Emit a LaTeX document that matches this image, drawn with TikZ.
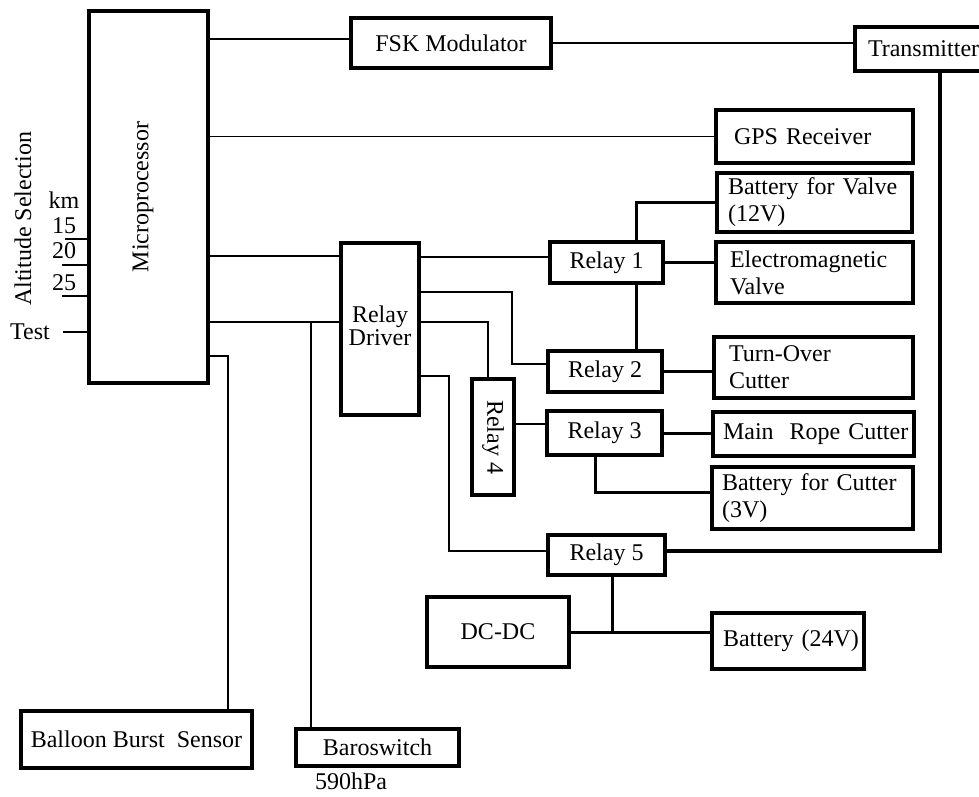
\documentclass[tikz,border=0pt]{standalone}
\usepackage{fontspec}
\setmainfont{Liberation Serif}
\begin{document}
\begin{tikzpicture}[x=1pt,y=-1pt,
  font=\fontsize{24}{27}\selectfont,
  box/.style={draw, line width=3.2pt, inner sep=0pt, outer sep=0pt, align=center},
  lbox/.style={box, anchor=west, align=left},
  plain/.style={inner sep=0pt, outer sep=0pt},
  sig/.style={line width=1.3pt},
  mid/.style={line width=2.2pt},
  pwr/.style={line width=3pt},
  heavy/.style={line width=4.2pt}]
\useasboundingbox (0,0) rectangle (979,796);
\clip (0,0) rectangle (979,796);

% boxes
\node[box, minimum width=119pt, minimum height=372pt] (mp) at (148.5,197) {\hspace*{-11pt}\rotatebox{90}{Microprocessor}};
\node[box, minimum width=200pt, minimum height=50pt] (fsk) at (451,43) {FSK Modulator};
\node[lbox, inner xsep=13pt, text width=124pt, minimum height=44pt] (tx) at (855,49) {\mbox{Transmitter}};
\node[lbox, inner xsep=18pt, text width=161pt, minimum height=53pt] (gps) at (716,136.5) {\mbox{GPS Receiver}};
\node[lbox, inner xsep=11pt, text width=173pt, minimum height=59pt] (bv) at (717,202.5) {Battery for Valve\\(12V)};
\node[lbox, inner xsep=14pt, text width=169pt, minimum height=61pt] (em) at (716,272.5) {Electromagnetic\\Valve};
\node[box, minimum width=113pt, minimum height=41pt] (r1) at (606.5,262.5) {Relay 1};
\node[box, minimum width=114pt, minimum height=41pt] (r2) at (605,371.5) {Relay 2};
\node[lbox, inner xsep=15pt, text width=169pt, minimum height=61pt] (to) at (714,367.5) {Turn-Over\\Cutter};
\node[box, minimum width=115pt, minimum height=44pt] (r3) at (604.5,433) {Relay 3};
\node[lbox, inner xsep=10pt, text width=181pt, minimum height=44pt] (mrc) at (713,434) {\mbox{Main~~Rope Cutter}};
\node[lbox, inner xsep=10pt, text width=181pt, minimum height=62pt] (bc) at (712,498) {Battery for Cutter\\(3V)};
\node[box, minimum width=42pt, minimum height=116pt] (r4) at (493,437) {\rotatebox{-90}{Relay 4}};
\node[box, minimum width=78pt, minimum height=172pt] (rd) at (380,329) {\raisebox{6pt}{\begin{tabular}{@{}c@{}}Relay\\[-4pt]Driver\end{tabular}}};
\node[box, minimum width=117pt, minimum height=40pt] (r5) at (606.5,555) {Relay 5};
\node[box, minimum width=142pt, minimum height=70pt] (dc) at (498,632) {DC-DC};
\node[lbox, inner xsep=11pt, text width=130pt, minimum height=56pt] (b24) at (712,641) {\mbox{Battery (24V)}};
\node[box, minimum width=231pt, minimum height=57pt] (bbs) at (136.5,739.5) {Balloon Burst~~Sensor};
\node[box, minimum width=163pt, minimum height=37pt] (baro) at (377.5,747.5) {Baroswitch};
\node[plain] (hpa) at (351,781) {590hPa};

% left labels
\node[plain, rotate=90] (alt) at (23,219) {Altitude Selection};
\node[plain] (km) at (64,200) {km};
\node[plain] (k15) at (64,226) {15};
\node[plain] (k20) at (64,251) {20};
\node[plain] (k25) at (64,283) {25};
\node[plain] (test) at (30,332) {Test};

% helper coordinates
\coordinate (l15) at (65,239);
\coordinate (l20) at (62,265);
\coordinate (l25) at (62,296);
\coordinate (lt) at (63,332);
\coordinate (yfsk) at (0,39);
\coordinate (y256) at (0,256);
\coordinate (y322) at (0,322);
\coordinate (y356) at (0,356);
\coordinate (xbb) at (228,0);
\coordinate (xbaro) at (311,0);
\coordinate (y257) at (0,257);
\coordinate (y292) at (0,292);
\coordinate (x512) at (512,0);
\coordinate (y364) at (0,364);
\coordinate (x488) at (488,0);
\coordinate (y376) at (0,376);
\coordinate (x449) at (449,0);
\coordinate (y551) at (0,551);
\coordinate (y424) at (0,424);
\coordinate (x636) at (636,0);
\coordinate (x595) at (595,0);
\coordinate (y492) at (0,492);
\coordinate (x940) at (940,0);
\coordinate (x612) at (612,0);

% left inputs
\draw[sig] (l15) -- (l15 -| mp.west);
\draw[sig] (l20) -- (l20 -| mp.west);
\draw[sig] (l25) -- (l25 -| mp.west);
\draw[sig] (lt) -- (lt -| mp.west);

% microprocessor outputs
\draw[sig] (mp.east |- yfsk) -- (fsk.west |- yfsk);
\draw[sig] (fsk.east) -- (fsk.east -| tx.west);
\draw[sig] (mp.east |- gps.west) -- (gps.west);
\draw[sig] (mp.east |- y256) -- (rd.west |- y256);
\draw[sig] (mp.east |- y322) -- (rd.west |- y322);
\draw[sig] (baro.north -| xbaro) -- (xbaro |- y322);
\draw[sig] (mp.east |- y356) -| (bbs.north -| xbb);

% relay driver outputs
\draw[sig] (rd.east |- y257) -- (r1.west |- y257);
\draw[sig] (rd.east |- y292) -| (x512 |- y364) -- (r2.west |- y364);
\draw[sig] (rd.east |- y322) -| (r4.north -| x488);
\draw[sig] (rd.east |- y376) -| (x449 |- y551) -- (r5.west |- y551);
\draw[sig] (r4.east |- y424) -- (r3.west |- y424);

% power connections
\draw[pwr] (r1.north -| x636) |- (bv.west);
\draw[pwr] (r1.east) -- (r1.east -| em.west);
\draw[pwr] (r1.south -| x636) -- (r2.north -| x636);
\draw[mid] (r2.east) -- (r2.east -| to.west);
\draw[pwr] (r3.east) -- (r3.east -| mrc.west);
\draw[pwr] (r3.south -| x595) |- (bc.west |- y492);
\draw[heavy] (r5.east |- y551) -| (tx.south -| x940);
\draw[pwr] (r5.south -| x612) -- (dc.east -| x612);
\draw[pwr] (dc.east) -- (dc.east -| b24.west);
\end{tikzpicture}
\end{document}
